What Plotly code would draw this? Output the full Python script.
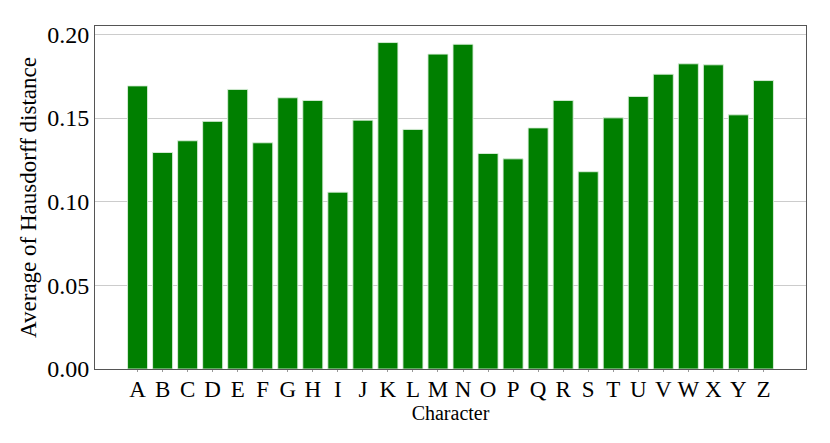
import plotly.graph_objects as go

characters = list("ABCDEFGHIJKLMNOPQRSTUVWXYZ")
avg_hausdorff = [
    0.1692, 0.1294, 0.1364, 0.1480, 0.1671, 0.1352, 0.1621, 0.1605, 0.1057,
    0.1487, 0.1951, 0.1432, 0.1882, 0.1941, 0.1288, 0.1256, 0.1441, 0.1605,
    0.1179, 0.1501, 0.1629, 0.1762, 0.1824, 0.1818, 0.1519, 0.1724,
]
y_ticks = [0.00, 0.05, 0.10, 0.15, 0.20]

serif = "Liberation Serif, Times New Roman, serif"

fig = go.Figure(go.Bar(
    x=characters,
    y=avg_hausdorff,
    marker=dict(color="#007f00", line=dict(color="rgba(220,240,220,0.9)", width=1)),
))

# page body adds an 8px offset, margins compensate for it
fig.update_layout(
    width=830, height=443,
    paper_bgcolor="white", plot_bgcolor="white",
    margin=dict(l=87, r=32, t=18, b=82),
    bargap=0.2,
    showlegend=False,
    font=dict(family=serif, color="black"),
)
fig.update_xaxes(
    range=[-1.7, 26.7],
    tickmode="array", tickvals=characters, tickangle=0,
    tickfont=dict(size=23),
    ticklabelstandoff=-3,
    title=dict(text="Character", font=dict(size=20), standoff=0),
    showline=True, linecolor="#555", linewidth=1, mirror=True,
    ticks="outside", ticklen=2, tickcolor="#999",
    showgrid=False,
)
fig.update_yaxes(
    range=[0, 0.205],
    tickvals=y_ticks,
    tickformat=".2f",
    tickfont=dict(size=24),
    title=dict(text="Average of Hausdorff distance", font=dict(size=23), standoff=4),
    showline=True, linecolor="#555", linewidth=1, mirror=True,
    showgrid=True, gridcolor="#cccccc", gridwidth=1,
    zeroline=False,
)

fig.write_html("out.html")
